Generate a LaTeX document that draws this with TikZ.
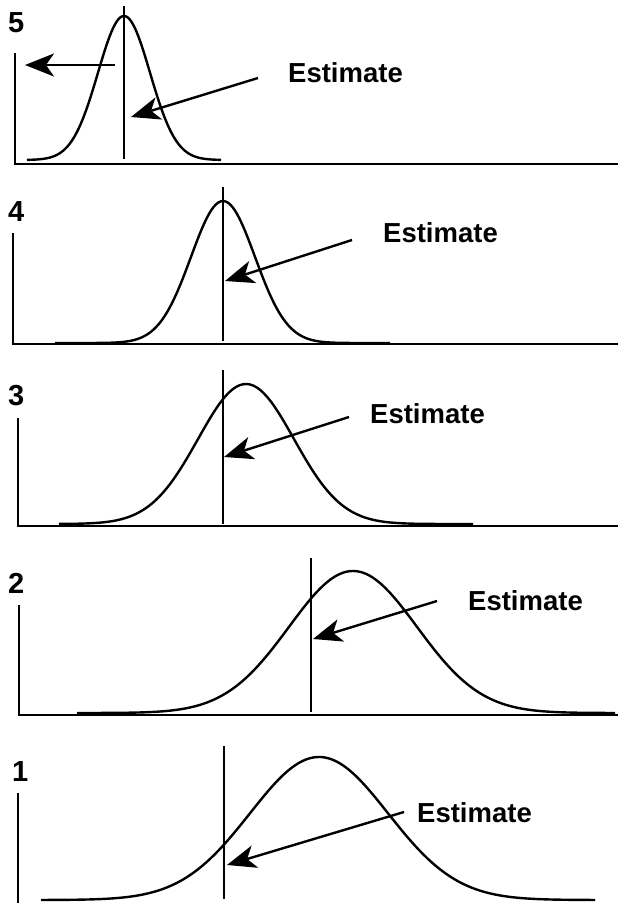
\documentclass[tikz,border=0pt]{standalone}
\usepackage{fontspec}
\setmainfont{Liberation Sans}
\usepackage{tikz}
\usetikzlibrary{arrows.meta}

\begin{document}
\begin{tikzpicture}[x=1pt,y=-1pt,line width=2.4pt,
  curve/.style={line width=2.4pt,line join=round},
  pointer/.style={-{Stealth[length=29pt,width=23pt,inset=8pt]},line width=2.4pt},
  lbl/.style={anchor=base west,inner sep=0pt,font=\fontsize{27.5}{30}\selectfont\bfseries},
  num/.style={anchor=base west,inner sep=0pt,font=\fontsize{29}{32}\selectfont\bfseries}]
\useasboundingbox (0,0) rectangle (618,903);
\foreach \n/\base/\peak/\sig/\hgt/\xa/\xb in {5/160/124/26/144/27/221,4/343/223/32/142/55/390,3/524/246/48/140/59/473,2/713/353/64/142/77/615,1/900/319/69/143/41/595}
  \draw[curve] plot[domain=\xa:\xb,samples=120,smooth] (\x,{\base-\hgt*exp(-0.5*((\x-\peak)/\sig)^2)});
\foreach \ax/\ya/\yb in {15/53/164,13/233/344,18/418/526,19/605/715}
  \draw (\ax,\ya) |- (618,\yb);
\draw (18,793) -- (18,903);
\foreach \vx/\ya/\yb in {124/6/159,223/187/341,223/370/524,311/558/712,224/746/899}
  \draw (\vx,\ya) -- (\vx,\yb);
\foreach \n/\lx/\ly in {5/7/32,4/7/221,3/7/405,2/7/593,1/11/781}
  \node[num] (num\n) at (\lx,\ly) {\n};
\foreach \n/\tx/\ty/\fx/\fy/\px/\py in {5/287/82/258/78/131/117,4/382/242/352/240/225/281,3/369/423/349/417/224/457,2/467/610/437/601/313/639,1/416/822/404/812/227/865}{
  \node[lbl] (est\n) at (\tx,\ty) {Estimate};
  \coordinate (from\n) at (\fx,\fy);
  \coordinate (tip\n) at (\px,\py);
  \draw[pointer] (from\n) -- (tip\n);
}
\coordinate (backfrom) at (115,65);
\coordinate (backto) at (25,65);
\draw[pointer] (backfrom) -- (backto);
\end{tikzpicture}
\end{document}
